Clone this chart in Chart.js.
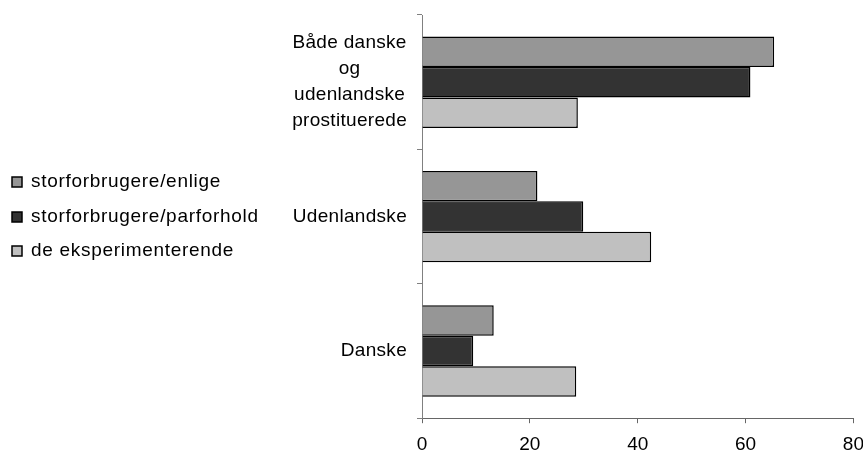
<!DOCTYPE html>
<html lang="da">
<head>
    <meta charset="UTF-8">
    <title>Prostituerede</title>
    <script src="https://cdn.jsdelivr.net/npm/chart.js"></script>
    <style>
        html, body { margin: 0; padding: 0; background: #fff; overflow: hidden; }
        /* a bit larger than the window so the last x label is cut like the original */
        #wrap { width: 874px; height: 466px; }
    </style>
</head>
<body>
    <div id="wrap"><canvas id="chart"></canvas></div>

    <script>
        const categories = [
            ['Både danske', 'og', 'udenlandske', 'prostituerede'],
            ['Udenlandske'],
            ['Danske']
        ];
        const enlige = [65.3, 21.4, 13.3];
        const parforhold = [60.9, 29.9, 9.5];
        const eksperimenterende = [28.9, 42.5, 28.6];
        const xTicks = [0, 20, 40, 60, 80];

        const FONT = 'Arial, "Liberation Sans", sans-serif';
        const FS = 19;

        // y category labels: each line centred, the block right-aligned next to the axis
        const yLabels = {
            id: 'yLabels',
            afterDraw(chart) {
                const ctx = chart.ctx;
                const y = chart.scales.y;
                const right = chart.chartArea.left - 15;
                const lh = 26;
                ctx.save();
                ctx.font = FS + 'px ' + FONT;
                ctx.letterSpacing = '0.3px';
                ctx.fillStyle = '#000';
                ctx.textBaseline = 'middle';
                ctx.textAlign = 'center';
                categories.forEach((lines, i) => {
                    const cy = y.getPixelForTick(i);
                    const w = Math.max(...lines.map(l => ctx.measureText(l).width));
                    const cx = right - w / 2;
                    const top = cy - (lines.length - 1) * lh / 2;
                    lines.forEach((l, j) => ctx.fillText(l, cx, top + j * lh));
                });
                ctx.restore();
            }
        };

        // legend far left, built from the datasets (the built-in one gets squeezed)
        const sideLegend = {
            id: 'sideLegend',
            afterDraw(chart) {
                const ctx = chart.ctx;
                const sets = chart.data.datasets;
                const gap = 34.5;
                const mid = (chart.chartArea.top + chart.chartArea.bottom) / 2;
                ctx.save();
                ctx.font = FS + 'px ' + FONT;
                ctx.letterSpacing = '0.7px';
                ctx.textBaseline = 'middle';
                ctx.textAlign = 'left';
                sets.forEach((ds, i) => {
                    const cy = Math.round(mid + (i - (sets.length - 1) / 2) * gap);
                    ctx.fillStyle = ds.backgroundColor;
                    ctx.fillRect(12, cy - 5, 10, 10);
                    ctx.strokeStyle = '#000';
                    ctx.lineWidth = 1.5;
                    ctx.strokeRect(12, cy - 5, 10, 10);
                    ctx.fillStyle = '#000';
                    ctx.fillText(ds.label, 31, cy);
                });
                ctx.restore();
            }
        };

        new Chart(document.getElementById('chart'), {
            type: 'bar',
            data: {
                labels: categories.map(c => c.join(' ')),
                datasets: [
                    { label: 'storforbrugere/enlige', data: enlige, backgroundColor: '#969696' },
                    { label: 'storforbrugere/parforhold', data: parforhold, backgroundColor: '#333333' },
                    { label: 'de eksperimenterende', data: eksperimenterende, backgroundColor: '#c0c0c0' }
                ].map(d => Object.assign(d, {
                    borderColor: '#000',
                    borderWidth: 1.5,
                    categoryPercentage: 0.68,
                    barPercentage: 1
                }))
            },
            options: {
                indexAxis: 'y',
                responsive: true,
                maintainAspectRatio: false,
                animation: false,
                layout: { padding: { top: 15, left: 0, right: 0, bottom: 0 } },
                plugins: {
                    tooltip: { enabled: false },
                    legend: { display: false }
                },
                scales: {
                    x: {
                        min: 0,
                        max: 80,
                        afterBuildTicks: s => { s.ticks = xTicks.map(v => ({ value: v })); },
                        grid: { drawOnChartArea: false, tickLength: 5, color: '#666' },
                        border: { color: '#666', width: 1 },
                        ticks: { color: '#000', padding: 10, font: { family: FONT, size: FS } }
                    },
                    y: {
                        afterFit: s => { s.width = 422; },
                        grid: { drawOnChartArea: false, tickLength: 5, color: '#808080', offset: true },
                        border: { color: '#808080', width: 1 },
                        ticks: { display: false }
                    }
                }
            },
            plugins: [yLabels, sideLegend]
        });
    </script>
</body>
</html>
